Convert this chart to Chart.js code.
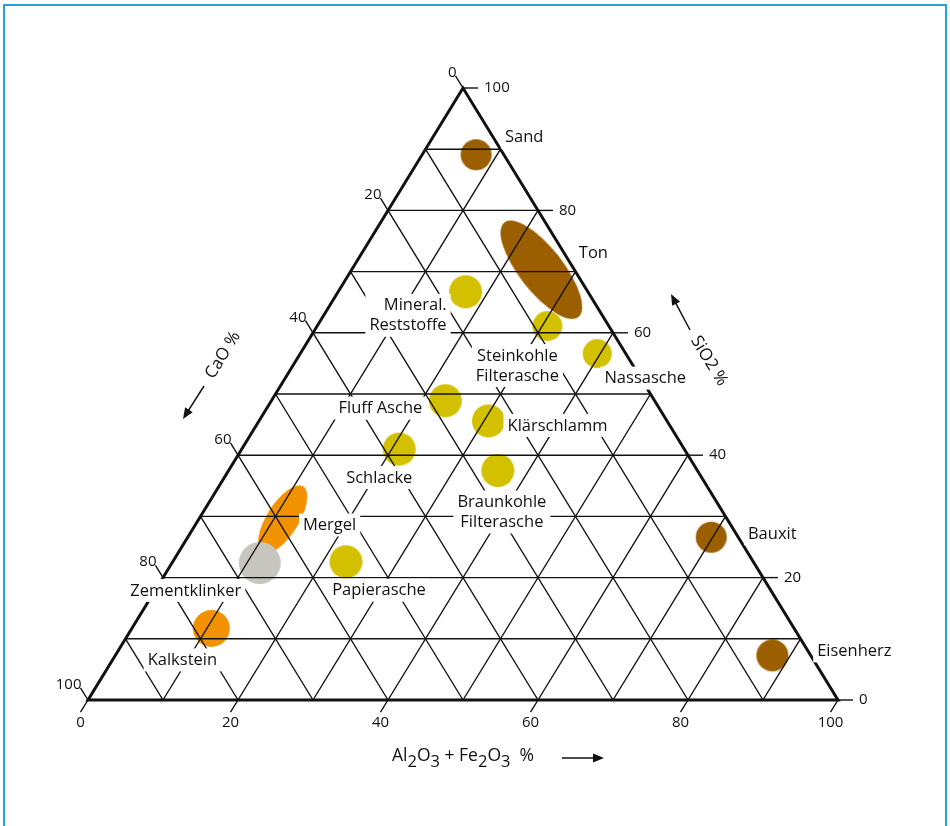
<!DOCTYPE html>
<html>
<head>
<meta charset="utf-8">
<script src="https://cdn.jsdelivr.net/npm/chart.js"></script>
<style>
  body { margin: 0; background: #fff; }
  #wrap { position: relative; width: 950px; height: 826px; overflow: hidden; }
  #chart { position: absolute; left: 0; top: 0; }
  #frame { position: absolute; left: 3px; top: 4px; width: 940px; height: 900px; border: 2px solid #22a3de; }
</style>
</head>
<body>
<div id="wrap">
  <canvas id="chart" width="950" height="826"></canvas>
  <div id="frame"></div>
</div>
<script>
'use strict';
// Rohstoffe im Dreieck CaO / SiO2 / Al2O3+Fe2O3, Angaben in %
const materials = ['Sand', 'Ton', 'Mineral.\nReststoffe', 'Steinkohle\nFilterasche', 'Nassasche',
  'Fluff Asche', 'Klärschlamm', 'Schlacke', 'Braunkohle\nFilterasche', 'Papierasche',
  'Mergel', 'Zementklinker', 'Kalkstein', 'Bauxit', 'Eisenherz'];
const sio2 = [89.1, 70.3, 66.7, 61.1, 56.6, 48.9, 45.6, 41.0, 37.5, 22.6, 29.5, 22.4, 11.7, 26.6, 7.3];
const alfe = [7.2, 25.3, 17.0, 30.7, 39.6, 23.2, 30.6, 21.0, 35.9, 23.1, 11.2, 11.7, 10.6, 69.8, 87.6];
const cao  = [3.7, 4.4, 16.3, 8.2, 3.8, 27.9, 23.8, 38.0, 26.6, 54.3, 59.3, 65.9, 77.7, 3.6, 5.1];
const axisTicks = [0, 20, 40, 60, 80, 100];
const gridSteps = [10, 20, 30, 40, 50, 60, 70, 80, 90];

// --- look ---
const BROWN = '#9c5f00', YELLOW = '#d3c100', ORANGE = '#f39200', GREY = '#c6c6be';
const markerColor = [BROWN, BROWN, YELLOW, YELLOW, YELLOW, YELLOW, YELLOW, YELLOW, YELLOW, YELLOW,
  ORANGE, GREY, ORANGE, BROWN, BROWN];
// [rx, ry, rotation in deg]
const markerShape = [[15.5, 15.5, 0], [60, 22, 52], [16.5, 16.5, 0], [15, 15, 0], [14.5, 14.5, 0],
  [16.5, 16.5, 0], [16.5, 16.5, 0], [16.5, 16.5, 0], [16.5, 16.5, 0], [16.5, 16.5, 0],
  [39, 16, -58], [21, 21, 0], [18.5, 18.5, 0], [15.5, 15.5, 0], [16, 16, 0]];
// label offset from the marker (first line), text align
const labelLayout = [
  {dx: 48, dy: -17, align: 'center'}, {dx: 52, dy: -16, align: 'center'},
  {dx: -19, dy: 14, align: 'right'}, {dx: -30, dy: 30, align: 'center'},
  {dx: 48, dy: 25, align: 'center'}, {dx: -65, dy: 8, align: 'center'},
  {dx: 69, dy: 5, align: 'center'}, {dx: -20, dy: 29, align: 'center'},
  {dx: 4, dy: 32, align: 'center'}, {dx: 33, dy: 29, align: 'center'},
  {dx: 47, dy: 6, align: 'center'}, {dx: -74, dy: 28, align: 'center'},
  {dx: -29, dy: 32, align: 'center'}, {dx: 61, dy: -3, align: 'center'},
  {dx: 82, dy: -4, align: 'center'}
];
const TICK = 2;          // tick length in % units
const FONT = '"Open Sans", "DejaVu Sans", sans-serif';
const INK = '#111';

// ternary -> chart coords (x across the base, y = SiO2)
function tern(a, s) { return { x: a + s / 2, y: s }; }

function ellipseImage(rx, ry, color) {
  const c = document.createElement('canvas');
  c.width = Math.ceil(rx * 2) + 2;
  c.height = Math.ceil(ry * 2) + 2;
  const g = c.getContext('2d');
  g.fillStyle = color;
  g.beginPath();
  g.ellipse(c.width / 2, c.height / 2, rx, ry, 0, 0, Math.PI * 2);
  g.fill();
  return c;
}

function line(points, width) {
  return {
    type: 'scatter', data: points, showLine: true, borderColor: INK, borderWidth: width,
    pointRadius: 0, pointHoverRadius: 0, clip: false, order: 1, tension: 0,
    borderJoinStyle: 'miter'
  };
}

const datasets = [];

datasets.push({
  type: 'scatter',
  data: materials.map((m, i) => tern(alfe[i], sio2[i])),
  pointStyle: markerShape.map((sh, i) => ellipseImage(sh[0], sh[1], markerColor[i])),
  pointRotation: markerShape.map(sh => sh[2]),
  pointRadius: markerShape.map(sh => sh[0]),
  pointBorderWidth: 0,
  clip: false,
  order: 5
});

// grid
gridSteps.forEach(k => {
  datasets.push(line([tern(0, k), tern(100 - k, k)], 1.4));          // SiO2 = k
  datasets.push(line([tern(k, 0), tern(k, 100 - k)], 1.4));          // Al+Fe = k
  datasets.push(line([tern(100 - k, 0), tern(0, 100 - k)], 1.4));    // CaO = k
});

// ticks
axisTicks.forEach(v => {
  const l = tern(0, 100 - v);       // CaO = v on left edge
  datasets.push(line([l, {x: l.x - TICK / 2, y: l.y + TICK}], 1.4));
  const r = tern(100 - v, v);       // SiO2 = v on right edge
  datasets.push(line([r, {x: r.x + TICK, y: r.y}], 1.4));
  const b = tern(v, 0);             // Al+Fe = v on base
  datasets.push(line([b, {x: b.x - TICK / 2, y: b.y - TICK}], 1.4));
});

// triangle
datasets.push(line([tern(0, 0), tern(100, 0), tern(0, 100), tern(0, 0), tern(100, 0)], 3));

function arrow(ctx, x1, y1, x2, y2) {
  const ang = Math.atan2(y2 - y1, x2 - x1);
  const hl = 11, hw = 4.5;
  ctx.beginPath();
  ctx.moveTo(x1, y1);
  ctx.lineTo(x2 - Math.cos(ang) * hl * 0.8, y2 - Math.sin(ang) * hl * 0.8);
  ctx.stroke();
  ctx.beginPath();
  ctx.moveTo(x2, y2);
  ctx.lineTo(x2 - Math.cos(ang) * hl + Math.sin(ang) * hw, y2 - Math.sin(ang) * hl - Math.cos(ang) * hw);
  ctx.lineTo(x2 - Math.cos(ang) * hl - Math.sin(ang) * hw, y2 - Math.sin(ang) * hl + Math.cos(ang) * hw);
  ctx.closePath();
  ctx.fill();
}

function chemText(ctx, parts, cx, y, size) {
  const big = size + 'px ' + FONT, small = (size - 1) + 'px ' + FONT;
  let w = 0;
  parts.forEach(p => { ctx.font = p[1] ? small : big; w += ctx.measureText(p[0]).width; });
  let x = cx - w / 2;
  ctx.textAlign = 'left';
  parts.forEach(p => {
    ctx.font = p[1] ? small : big;
    ctx.fillText(p[0], x, y + (p[1] ? 6 : 0));
    x += ctx.measureText(p[0]).width;
  });
}

const textPlugin = {
  id: 'ternaryText',
  afterDatasetsDraw(chart) {
    const ctx = chart.ctx;
    const xs = chart.scales.x, ys = chart.scales.y;
    const px = (a, s) => { const t = tern(a, s); return { x: xs.getPixelForValue(t.x), y: ys.getPixelForValue(t.y) }; };
    ctx.save();

    // material labels with white mask
    ctx.font = '16.5px ' + FONT;
    ctx.textBaseline = 'middle';
    materials.forEach((name, i) => {
      const p = px(alfe[i], sio2[i]);
      const lay = labelLayout[i];
      const lines = name.split('\n');
      const w = Math.max(...lines.map(t => ctx.measureText(t).width));
      const x0 = p.x + lay.dx, y0 = p.y + lay.dy;
      const left = lay.align === 'right' ? x0 - w : lay.align === 'left' ? x0 : x0 - w / 2;
      ctx.fillStyle = '#fff';
      ctx.fillRect(left - 4, y0 - 12, w + 8, (lines.length - 1) * 20 + 23);
      ctx.fillStyle = INK;
      ctx.textAlign = lay.align;
      lines.forEach((t, j) => ctx.fillText(t, x0, y0 + j * 20));
    });

    // tick labels
    ctx.font = '15px ' + FONT;
    ctx.fillStyle = INK;
    axisTicks.forEach(v => {
      const l = px(0, 100 - v);
      const lx = l.x - xs.width / 100 * TICK / 2, ly = l.y - ys.height / 100 * TICK;
      ctx.textAlign = 'right'; ctx.textBaseline = 'alphabetic';
      ctx.fillText(String(v), lx + 1, ly + 1);
      const r = px(100 - v, v);
      ctx.textAlign = 'left'; ctx.textBaseline = 'middle';
      ctx.fillText(String(v), r.x + xs.width / 100 * TICK + 6, r.y);
      const b = px(v, 0);
      ctx.textAlign = 'center'; ctx.textBaseline = 'middle';
      ctx.fillText(String(v), b.x - xs.width / 100 * TICK / 2, b.y + 23);
    });

    // axis titles
    const top = px(0, 100), bl = px(0, 0), br = px(100, 0);
    const angL = Math.atan2(top.y - bl.y, top.x - bl.x);
    const angR = Math.atan2(br.y - top.y, br.x - top.x);
    ctx.font = '17px ' + FONT;
    ctx.textAlign = 'center'; ctx.textBaseline = 'middle';
    ctx.save();
    ctx.translate(223, 355); ctx.rotate(angL);
    ctx.fillText('CaO %', 0, 0);
    ctx.restore();
    ctx.save();
    ctx.translate(709, 361); ctx.rotate(angR);
    ctx.fillText('SiO2 %', 0, 0);
    ctx.restore();
    ctx.textBaseline = 'alphabetic';
    chemText(ctx, [['Al', 0], ['2', 1], ['O', 0], ['3', 1], [' + Fe', 0], ['2', 1], ['O', 0], ['3', 1], ['  %', 0]],
      (bl.x + br.x) / 2, 761, 17.5);

    ctx.strokeStyle = INK; ctx.fillStyle = INK; ctx.lineWidth = 1.5;
    arrow(ctx, 204, 386, 183, 419);
    arrow(ctx, 690, 330, 671, 294);
    arrow(ctx, 562, 758, 604, 758);
    ctx.restore();
  }
};

new Chart(document.getElementById('chart'), {
  type: 'scatter',
  data: { datasets: datasets },
  options: {
    responsive: false,
    animation: false,
    events: [],
    layout: { padding: { left: 88, top: 88, right: 112, bottom: 126 } },
    scales: {
      x: { type: 'linear', min: 0, max: 100, display: false },
      y: { type: 'linear', min: 0, max: 100, display: false }
    },
    plugins: { legend: { display: false }, tooltip: { enabled: false } }
  },
  plugins: [textPlugin]
});
</script>
</body>
</html>
